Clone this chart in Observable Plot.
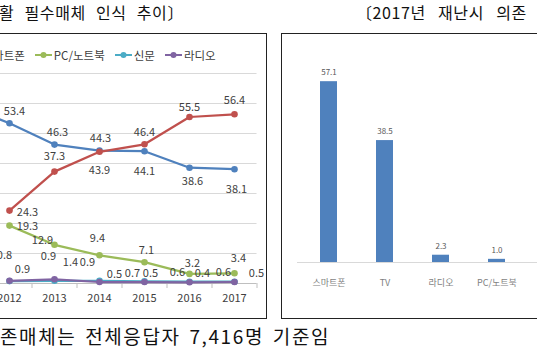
<!DOCTYPE html>
<html><head><meta charset="utf-8">
<script src="https://cdn.jsdelivr.net/npm/d3@7"></script>
<script src="https://cdn.jsdelivr.net/npm/@observablehq/plot@0.6"></script>
<style>
html,body{margin:0;padding:0;background:#fff;}
#page{position:relative;width:537px;height:360px;overflow:hidden;font-family:"Noto Sans CJK KR","Noto Sans",sans-serif;color:#111;}
.title{position:absolute;top:2px;font-size:16px;line-height:20px;white-space:pre;letter-spacing:0.6px;word-spacing:6px;}
#t1{left:-1px;}
#t2{left:356px;word-spacing:8px;}
.box{position:absolute;border:1px solid #222;top:33px;height:284px;}
#box1{left:-90px;width:355px;}
#box2{left:281px;width:320px;}
#c1{position:absolute;left:-80px;top:33px;width:347px;}
#c2{position:absolute;left:281px;top:33px;width:312px;}
#c1 svg,#c2 svg{max-width:none !important;}
#legend{position:absolute;left:-79px;top:47px;display:flex;align-items:center;font-size:11.5px;color:#404040;white-space:nowrap;}
.li{display:flex;align-items:center;margin-right:10px;}
.li svg{margin-right:2px;}
#cap{position:absolute;left:0px;top:324px;font-size:19px;line-height:24px;letter-spacing:1.6px;word-spacing:3px;white-space:pre;color:#111;}
</style></head><body>
<div id="page">
  <div id="t1" class="title">활 필수매체 인식 추이〕</div>
  <div id="t2" class="title">〔2017년 재난시 의존</div>
  <div id="box1" class="box"></div>
  <div id="box2" class="box"></div>
  <div id="c1"></div>
  <div id="c2"></div>
  <div id="legend"></div>
  <div id="cap">존매체는 전체응답자 7,416명 기준임</div>
</div>
<script>
// ---- data: left line chart (생활 필수매체 인식 추이, %) ----
const years = [2011, 2012, 2013, 2014, 2015, 2016, 2017];
const seriesNames = ["TV", "스마트폰", "PC/노트북", "신문", "라디오"];
const tvValues = [59.4, 53.4, 46.3, 44.3, 44.1, 38.6, 38.1];
const smartphoneValues = [null, 24.3, 37.3, 43.9, 46.4, 55.5, 56.4];
const pcValues = [null, 19.3, 12.9, 9.4, 7.1, 3.2, 3.4];
const newspaperValues = [null, 0.8, 0.9, 0.9, 0.7, 0.6, 0.6];
const radioValues = [null, 0.9, 1.4, 0.5, 0.5, 0.4, 0.5];
const gridValues = [10, 20, 30, 40, 50, 60, 70];

// ---- data: right bar chart (2017년 재난시 의존매체, %) ----
const barCategories = ["스마트폰", "TV", "라디오", "PC/노트북", "신문"];
const barValues = [57.1, 38.5, 2.3, 1.0];

// ---- styling ----
const colors = ["#4F81BD", "#C0504D", "#9BBB59", "#4BACC6", "#8064A2"];
const labelNudges = {
  "TV": [[0,-12],[5,-12],[3,-12],[1,-12],[0,20],[3,14],[2,20]],
  "스마트폰": [null,[18,2],[0,-15],[0,19],[0,-12],[0,-10],[0,-14]],
  "PC/노트북": [null,[18,1],[-12,-4],[-2,-17],[2,-12],[3,-10],[4,-15]],
  "신문": [null,[-5,-26],[-6,-24],[-12,-18],[-12,-8],[-12,-9],[-11,-9]],
  "라디오": [null,[13,-11],[16,-17],[15,-8],[6,-9],[13,-9],[22,-9]]
};
const FONT = '"Noto Sans CJK KR","Noto Sans",sans-serif';

const seriesValues = [tvValues, smartphoneValues, pcValues, newspaperValues, radioValues];
const rows = [];
seriesNames.forEach((s, i) => years.forEach((yr, j) => {
  const v = seriesValues[i][j];
  if (v != null) rows.push({series: s, year: yr, value: v, idx: j});
}));
const boundaries = d3.range(years.length + 1).map(i => years[0] - 0.5 + i);

const lineMarks = [
  Plot.ruleY(gridValues, {stroke: "#d9d9d9", strokeWidth: 1}),
  Plot.ruleY([0], {stroke: "#bfbfbf", strokeWidth: 1}),
  Plot.ruleX(boundaries, {x: d => d, y1: 0, y2: 0, insetBottom: -5, stroke: "#bfbfbf"})
];
seriesNames.forEach((s, i) => {
  const d = rows.filter(r => r.series === s);
  lineMarks.push(Plot.line(d, {x: "year", y: "value", stroke: colors[i], strokeWidth: 2.25}));
  lineMarks.push(Plot.dot(d, {x: "year", y: "value", fill: colors[i], r: 3.3}));
});
rows.forEach(r => {
  const n = labelNudges[r.series][r.idx] || [0, -12];
  lineMarks.push(Plot.text([r], {x: "year", y: "value", text: d => d.value.toFixed(1),
    dx: n[0], dy: n[1], fill: "#404040", fontSize: 11, textAnchor: "middle", lineAnchor: "middle"}));
});

const p1 = Plot.plot({
  width: 347, height: 285,
  marginLeft: 21.5, marginRight: 10.5, marginTop: 40, marginBottom: 35,
  x: {type: "linear", domain: [years[0] - 0.5, years[years.length - 1] + 0.5], ticks: years,
      tickFormat: d => String(d), tickSize: 0, tickPadding: 11, label: null},
  y: {domain: [0, 70], axis: null},
  style: {fontFamily: FONT, fontSize: "11px", color: "#404040", background: "transparent", overflow: "visible", maxWidth: "none"},
  marks: lineMarks
});
document.getElementById("c1").appendChild(p1);

// legend
const lg = document.getElementById("legend");
seriesNames.forEach((s, i) => {
  const item = document.createElement("div");
  item.className = "li";
  item.innerHTML = `<svg width="17" height="10"><line x1="0" y1="5" x2="17" y2="5" stroke="${colors[i]}" stroke-width="2"/><circle cx="8.5" cy="5" r="3" fill="${colors[i]}"/></svg><span>${s}</span>`;
  lg.appendChild(item);
});

// bar chart
const bars = barValues.map((v, i) => ({cat: barCategories[i], value: v}));
const p2 = Plot.plot({
  width: 312, height: 285,
  marginLeft: 16, marginRight: 10, marginTop: 39, marginBottom: 56,
  x: {type: "band", domain: barCategories, paddingInner: 0.7, paddingOuter: 0.37,
      tickSize: 0, tickPadding: 17, label: null},
  y: {domain: [0, 60], axis: null},
  style: {fontFamily: FONT, fontSize: "9px", color: "#7f7f7f", background: "transparent", overflow: "visible", maxWidth: "none"},
  marks: [
    Plot.barY(bars, {x: "cat", y: "value", fill: "#4F81BD"}),
    Plot.ruleY([0], {stroke: "#d9d9d9"}),
    Plot.text(bars, {x: "cat", y: "value", text: d => d.value.toFixed(1), dy: -9,
      fill: "#595959", fontSize: 8, lineAnchor: "middle"})
  ]
});
document.getElementById("c2").appendChild(p2);
</script>
</body></html>
